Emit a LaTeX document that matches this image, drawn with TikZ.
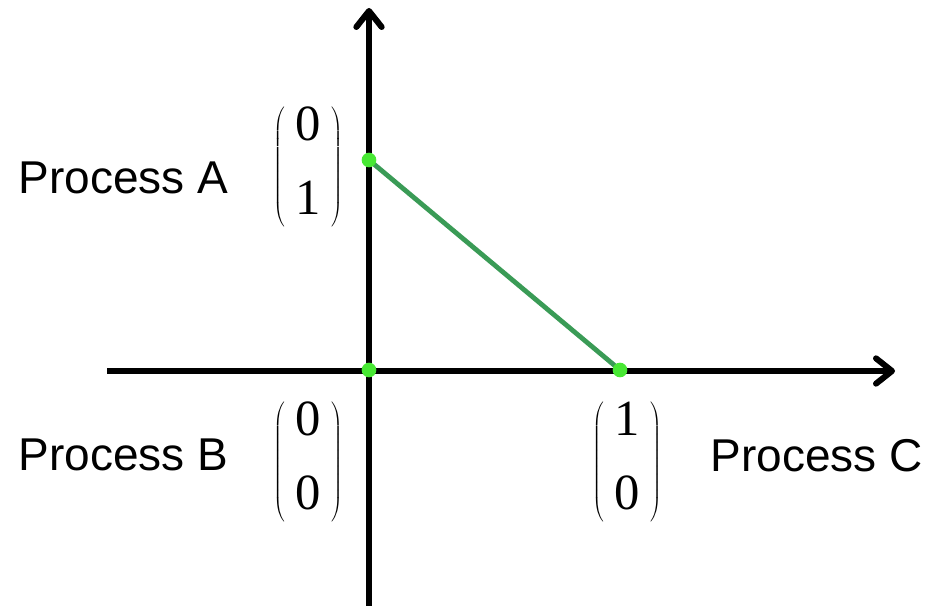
\documentclass[tikz,border=0pt]{standalone}
\usepackage{fontspec}
\setmainfont{Liberation Serif}
\newfontfamily\procfont{Liberation Sans}
\usetikzlibrary{arrows.meta,positioning}
\definecolor{lineGreen}{RGB}{58,155,86}
\definecolor{dotGreen}{RGB}{72,232,52}
\newcommand{\colvec}[2]{$\left(\begin{tabular}{@{\hspace{8pt}}c@{\hspace{8pt}}}#1\\[17pt]#2\end{tabular}\right)$}

\begin{document}
\begin{tikzpicture}[
  x=0.75pt, y=-0.75pt,
  axis/.style={draw, line width=4.5pt,
               -{Straight Barb[length=12pt, width=19pt, line cap=round,
                 line join=round]}},
  link/.style={draw=lineGreen, line width=3.6pt},
  dot/.style={circle, fill=dotGreen, inner sep=0pt, minimum size=11pt},
  vec/.style={inner sep=0pt, font=\fontsize{38}{39}\selectfont},
  proc/.style={inner sep=0pt, font=\procfont\fontsize{34.5}{40}\selectfont},
  node distance=33pt
]
\useasboundingbox (0,0) rectangle (934,606);
% axes
\coordinate (ybot) at (369,606);
\coordinate (ytop) at (369,8);
\coordinate (xleft) at (107,371);
\coordinate (xright) at (895,371);
\draw[axis] (ybot) -- (ytop);
\draw[axis] (xleft) -- (xright);
% corners
\coordinate (ca) at (369,160);
\coordinate (cb) at (369,370);
\coordinate (cc) at (620,370);
\draw[link] (ca) -- (cc);
\node[dot] (pa) at (ca) {};
\node[dot] (pb) at (cb) {};
\node[dot] (pc) at (cc) {};
% vectors and labels
\node[vec] (va) at (308,167) {\colvec{0}{1}};
\node[vec] (vb) at (308,462) {\colvec{0}{0}};
\node[vec] (vc) at (627,462) {\colvec{1}{0}};
\node[proc, left=of va, yshift=-8pt] (la) {Process A};
\node[proc, left=of vb, yshift=5pt] (lb) {Process B};
\node[proc, right=36pt of vc, yshift=5pt] (lc) {Process C};
\end{tikzpicture}
\end{document}
